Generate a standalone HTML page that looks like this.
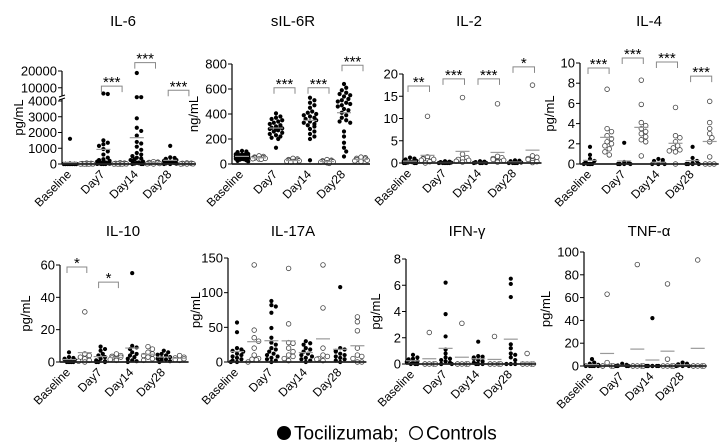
<!DOCTYPE html>
<html><head><meta charset="utf-8"><style>
html,body{margin:0;padding:0;background:#fff}
svg{display:block;font-family:"Liberation Sans",Arial,sans-serif}
</style></head><body>
<svg id="chart" width="727" height="444" viewBox="0 0 727 444" xmlns="http://www.w3.org/2000/svg">
<g>
<circle cx="284" cy="433" r="7" fill="#000"/>
<text x="294" y="439.5" font-size="19" fill="#000">Tocilizumab;</text>
<circle cx="416" cy="433" r="6.3" fill="#fff" stroke="#000" stroke-width="1.3"/>
<text x="426" y="439.5" font-size="19" fill="#000">Controls</text>
</g>
</svg>
<script>
const categories = ["Baseline","Day7","Day14","Day28"];
const il6Ticks = [0,1000,2000,3000,4000,10000,20000];
const il6Values = [
 [1600,30,20,10,5,0,0,0,0,0,0,0,0,0,0,0,0,0,0,0],
 [60,40,30,20,10,5,0,0,0,0],
 [6600,6300,1500,1350,1250,1150,950,800,600,400,300,250,200,150,120,100,80,60,40,20,10,0,0,0],
 [80,60,40,30,20,10,0,0,0,0],
 [18800,4400,4400,2900,2300,2100,1800,1400,1300,1100,900,700,600,500,400,350,300,250,200,150,100,80,50,30,0,0,0],
 [150,120,100,80,50,30,10,0],
 [1150,420,380,330,280,250,200,150,120,100,60,40,20,0,0],
 [70,50,40,30,20,10,0,0]];
const sil6rTicks = [0,200,400,600,800];
const sil6rValues = [
 [105,100,95,90,85,80,78,75,72,70,68,65,62,60,58,55,52,50,48,45,42,40,38,35,30,25,20],
 [65,60,55,50,48,45,42,40,38],
 [405,380,370,360,350,340,330,320,310,300,295,290,285,280,275,270,260,250,240,230,220,210,200,130],
 [45,40,35,30,28,25,22,20,18,15],
 [530,510,490,470,450,420,410,400,390,380,370,360,350,340,330,320,310,300,280,260,240,220,200,30],
 [35,30,25,22,20,18,15,10,5],
 [640,610,590,570,560,550,540,520,510,500,490,480,470,460,440,430,410,390,370,350,340,330,260,220,170,130,100,60],
 [55,50,45,40,35,30,25,20]];
const il2Ticks = [0,5,10,15,20];
const il2Values = [
 [1.2,1,0.8,0.7,0.6,0.5,0.4,0.3,0.2,0.1,0,0,0,0],
 [10.5,1.4,1.2,1,0.9,0.8,0.6,0.5,0.3,0],
 [0.4,0.3,0.2,0.2,0.1,0.1,0,0,0,0,0],
 [14.7,2,1.2,1,0.8,0.6,0.4,0.2],
 [0.4,0.3,0.2,0.1,0.1,0,0,0,0],
 [13.3,1.5,1.2,1,0.8,0.6,0.4,0.2],
 [0.6,0.5,0.4,0.3,0.2,0.1,0,0,0,0],
 [17.5,1.6,1.3,1,0.8,0.5,0.3,0.1]];
const il4Ticks = [0,2,4,6,8,10];
const il4Values = [
 [1.7,0.9,0.5,0.3,0.2,0,0,0,0,0],
 [7.4,3.5,3.2,2.8,2.5,2.2,2.0,1.8,1.5,1.2,0.9],
 [2.1,0.2,0.1,0,0,0,0,0],
 [8.3,5.9,4.1,3.8,3.5,3.2,3.0,2.7,2.4,2.2,0.8],
 [0.5,0.4,0.3,0.2,0,0,0,0],
 [5.6,2.8,2.6,2.2,1.8,1.6,1.4,1.3,1.2,0],
 [1.7,0.6,0.3,0.1,0,0,0,0],
 [6.2,4.1,3.5,3.0,2.6,2.2,0.7,0,0,0]];
const il10Ticks = [0,20,40,60];
const il10Values = [
 [6,3,2.5,2,1.5,1,0.5,0,0,0,0],
 [31,5,4,3,2,1,0.5,0],
 [9.5,8,7,5,4,3,2,1,0.5,0,0,0],
 [5,4,3.5,3,2.5,2,1.5,1],
 [55,10,9,8,6,5,4,3,2,1,0.5,0],
 [9.5,8,6,5,4,3,2,1],
 [7,6,5,4.5,4,3,2.5,2,1.5,1,0.5,0],
 [4,3,2.5,2,1.5,1]];
const il17aTicks = [0,50,100,150];
const il17aValues = [
 [57,43,20,18,16,15,12,10,8,6,4,2,0,0],
 [140,46,35,30,20,10,5,4,3,0],
 [88,82,80,71,49,35,28,25,20,18,15,12,10,8,6,4,2,0],
 [135,55,28,27,20,15,10,8,5,2],
 [30,27,25,20,18,15,12,10,8,6,4,2,0],
 [140,78,20,10,8,5,4,2],
 [108,20,18,16,15,12,10,8,6,4,2,0],
 [65,58,45,20,10,8,5,0,0]];
const ifngTicks = [0,2,4,6,8];
const ifngValues = [
 [0.7,0.5,0.4,0.35,0.3,0.2,0.15,0.1,0,0,0],
 [2.4,0,0,0,0,0],
 [6.2,3.8,2.1,1.1,0.8,0.5,0.4,0.3,0.2,0.1,0,0,0],
 [3.1,0,0,0,0,0],
 [1.7,0.6,0.55,0.5,0.4,0.3,0.2,0.1,0,0,0],
 [2.1,0,0,0,0,0],
 [6.5,6.1,5.1,1.5,1.2,0.8,0.7,0.5,0.3,0,0,0],
 [0.8,0,0,0,0,0]];
const tnfTicks = [0,20,40,60,80,100];
const tnfValues = [
 [6,3,2,1,0.5,0,0,0,0,0],
 [63,3,0,0,0,0],
 [2,1,0.5,0,0,0,0],
 [89,0,0,0,0,0],
 [42,0,0,0,0,0,0,0],
 [72,6,0,0,0,0],
 [3,2,1.5,1,0.5,0,0,0],
 [93,0,0,0,0,0]];

const panels = [
 {name:"il-6",title:"IL-6",unit:"pg/mL",data:il6Values,ticks:il6Ticks,max:20000,x0:62,first:70,sp:16.7,yb:164,yt:71,tx:123,ty:26,lx:23,broken:true,
  sig:[[2,"***",11000],[4,"***",25000],[6,"***",8500]]},
 {name:"sil-6r",title:"sIL-6R",unit:"ng/mL",data:sil6rValues,ticks:sil6rTicks,max:800,x0:232,first:242,sp:17,yb:164,yt:64,tx:293,ty:26,lx:198,
  sig:[[2,"***",610],[4,"***",610],[6,"***",790]]},
 {name:"il-2",title:"IL-2",unit:"",data:il2Values,ticks:il2Ticks,max:20,x0:403,first:410,sp:17.5,yb:163,yt:74,tx:469,ty:26,lx:0,
  sig:[[0,"**",17.3],[2,"***",18.9],[4,"***",18.9],[6,"*",21.6]]},
 {name:"il-4",title:"IL-4",unit:"pg/mL",data:il4Values,ticks:il4Ticks,max:10,x0:580,first:590,sp:17.1,yb:164,yt:63,tx:649,ty:26,lx:554,
  sig:[[0,"***",9.5],[2,"***",10.5],[4,"***",10.1],[6,"***",8.7]]},
 {name:"il-10",title:"IL-10",unit:"pg/mL",data:il10Values,ticks:il10Ticks,max:60,x0:60,first:69,sp:15.8,yb:362,yt:265,tx:123,ty:236,lx:30,
  sig:[[0,"*",58.8],[2,"*",49.4]]},
 {name:"il-17a",title:"IL-17A",unit:"pg/mL",data:il17aValues,ticks:il17aTicks,max:150,x0:228,first:237,sp:17.2,yb:362,yt:258,tx:293,ty:236,lx:200,sig:[]},
 {name:"ifn-gamma",title:"IFN-γ",unit:"pg/mL",data:ifngValues,ticks:ifngTicks,max:8,x0:406,first:413,sp:16.3,yb:364,yt:259,tx:467,ty:236,lx:380,sig:[]},
 {name:"tnf-alpha",title:"TNF-α",unit:"pg/mL",data:tnfValues,ticks:tnfTicks,max:100,x0:584,first:592,sp:15.1,yb:366,yt:252,tx:649,ty:236,lx:550,sig:[]}
];

const NS="http://www.w3.org/2000/svg";
const svg=document.getElementById('chart');
function mk(tag,attrs,parent){const e=document.createElementNS(NS,tag);for(const k in attrs)e.setAttribute(k,attrs[k]);(parent||svg).appendChild(e);return e;}
const cands=[0,2.2,-2.2,4.4,-4.4,6.2,-6.2];

panels.forEach(p=>{
 const g=mk('g',{});
 
 
 function yScale(v){
  if(!p.broken) return p.yb-(v/p.max)*(p.yb-p.yt);
  if(v<=4000) return p.yb-(v/4000)*(p.yb-101);
  return 97-(v-4500)/(20000-4500)*(97-p.yt);
 }
 const lastX=p.first+7*p.sp;
 const x1=lastX+9;
 const t=mk('text',{x:p.tx,y:p.ty,'text-anchor':'middle','font-size':15},g);
 t.textContent=p.title;
 
 
 if(p.unit){
  const yl=mk('text',{x:p.lx,y:(p.yb+p.yt)/2,'text-anchor':'middle','font-size':13,transform:`rotate(-90 ${p.lx} ${(p.yb+p.yt)/2})`},g);
  yl.textContent=p.unit;
  
  
 }
 if(p.broken){
  mk('line',{x1:p.x0,y1:p.yb,x2:p.x0,y2:99,stroke:'#000','stroke-width':1.2},g);
  mk('line',{x1:p.x0,y1:96,x2:p.x0,y2:p.yt,stroke:'#000','stroke-width':1.2},g);
  mk('line',{x1:p.x0-3,y1:100,x2:p.x0+3,y2:98,stroke:'#000','stroke-width':1},g);
  mk('line',{x1:p.x0-3,y1:97,x2:p.x0+3,y2:95,stroke:'#000','stroke-width':1},g);
 } else {
  mk('line',{x1:p.x0,y1:p.yb,x2:p.x0,y2:p.yt,stroke:'#000','stroke-width':1.2},g);
 }
 p.ticks.forEach(v=>{
  const y=yScale(v);
  mk('line',{x1:p.x0-4,y1:y,x2:p.x0,y2:y,stroke:'#000','stroke-width':1},g);
  const tl=mk('text',{x:p.x0-5,y:y+4.5,'text-anchor':'end','font-size':13},g);
  tl.textContent=v;
  
  
 });
 categories.forEach((c,i)=>{
  const cx=p.first+2*i*p.sp+2;
  const xl=mk('text',{x:cx,y:p.yb+11,'text-anchor':'end','font-size':12,transform:`rotate(-45 ${cx} ${p.yb+11})`},g);
  xl.textContent=c;
  
  
 });
 p.data.forEach((vals,gi)=>{
  const cx=p.first+gi*p.sp;
  const filled=gi%2===0;
  const r=filled?2.1:2.3;
  const placed=[];
  const pts=vals.map(v=>({v,y:yScale(v)})).sort((a,b)=>a.y-b.y);
  pts.forEach(pt=>{
   let off=null;
   for(const o of cands){
    if(!placed.some(q=>Math.hypot(q.x-(cx+o),q.y-pt.y)<2*r-0.3)){off=o;break;}
   }
   if(off===null) off=cands[placed.length%cands.length];
   placed.push({x:cx+off,y:pt.y});
   const c=mk('circle',{cx:cx+off,cy:pt.y,r:r,fill:filled?'#000':'#fff',stroke:filled?'none':'#444','stroke-width':0.8},g);
   
   
  });
  const mean=vals.reduce((a,b)=>a+b,0)/vals.length;
  const my=yScale(mean);
  const ml=mk('line',{x1:cx-7,y1:my,x2:cx+7,y2:my,stroke:'#999','stroke-width':1.2},g);
  
  
 });
 const xa=mk('line',{x1:p.x0,y1:p.yb,x2:x1,y2:p.yb,stroke:'#222','stroke-width':1.8},g);
 
 
 p.sig.forEach(([gi,stars,v])=>{
  const xa1=p.first+gi*p.sp-2, xa2=p.first+(gi+1)*p.sp+2;
  const y=yScale(v);
  const b=mk('path',{d:`M${xa1} ${y+6}V${y}H${xa2}V${y+6}`,fill:'none',stroke:'#888','stroke-width':1},g);
  
  
  const st=mk('text',{x:(xa1+xa2)/2,y:y+1,'text-anchor':'middle','font-size':15},g);
  st.textContent=stars;
  
  
 });
});
</script>
</body></html>
